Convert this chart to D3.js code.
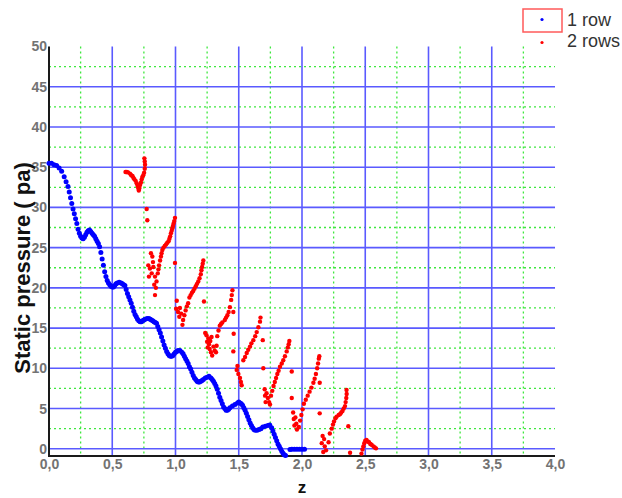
<!DOCTYPE html>
<html>
<head>
<meta charset="utf-8">
<script src="https://cdn.jsdelivr.net/npm/d3@7"></script>
<style>
  html, body { margin: 0; padding: 0; background: #fff; }
  svg { display: block; }
  .tick text { font-family: "Liberation Sans", Arial, sans-serif; font-size: 14px; font-weight: bold; fill: #737373; }
</style>
</head>
<body>
<svg id="chart" width="622" height="498"></svg>
<script>
// Static pressure along z, one row vs two rows

// Axis ticks
const zTicks = [0, 0.5, 1, 1.5, 2, 2.5, 3, 3.5, 4];
const pTicks = [0, 5, 10, 15, 20, 25, 30, 35, 40, 45, 50];
const zMinor = [0.25, 0.75, 1.25, 1.75, 2.25, 2.75, 3.25, 3.75];
const pMinor = [2.5, 7.5, 12.5, 17.5, 22.5, 27.5, 32.5, 37.5, 42.5, 47.5];
const seriesNames = ["1 row", "2 rows"];

// 1 row
const oneRowZ = [0.00,0.02,0.04,0.06,0.08,0.10,0.12,0.135,0.15,0.16,0.17,0.18,0.19,0.20,0.21,0.22,0.23,0.24,0.25,0.26,0.27,0.28,0.29,0.30,0.31,0.32,0.33,0.34,0.35,0.36,0.37,0.38,0.39,0.40,0.41,0.42,0.43,0.44,0.45,0.46,0.47,0.48,0.49,0.50,0.51,0.52,0.53,0.54,0.555,0.57,0.58,0.59,0.60,0.61,0.62,0.63,0.64,0.65,0.66,0.67,0.68,0.69,0.70,0.71,0.72,0.73,0.74,0.75,0.76,0.775,0.79,0.80,0.81,0.82,0.83,0.84,0.85,0.86,0.87,0.88,0.89,0.90,0.91,0.92,0.93,0.94,0.95,0.96,0.97,0.98,0.99,1.00,1.01,1.02,1.035,1.05,1.06,1.07,1.08,1.09,1.10,1.11,1.12,1.13,1.14,1.15,1.16,1.17,1.18,1.19,1.20,1.21,1.22,1.235,1.25,1.265,1.28,1.29,1.30,1.31,1.32,1.33,1.34,1.35,1.36,1.37,1.38,1.39,1.40,1.41,1.42,1.43,1.45,1.47,1.49,1.50,1.51,1.52,1.53,1.54,1.55,1.56,1.57,1.58,1.59,1.60,1.61,1.62,1.63,1.645,1.66,1.675,1.69,1.71,1.73,1.745,1.76,1.77,1.78,1.79,1.80,1.81,1.82,1.83,1.84,1.85,1.86,1.87,1.905,1.92,1.94,1.96,1.98,2.00,2.02];
const oneRowP = [35.5,35.5,35.3,35.2,34.9,34.5,33.8,33.2,32.6,31.9,31.2,30.5,29.8,29.2,28.6,28.0,27.3,26.8,26.4,26.2,26.1,26.3,26.6,26.9,27.1,27.2,27.0,26.8,26.6,26.4,26.1,25.8,25.5,25.1,24.4,23.6,22.8,22.0,21.4,20.9,20.6,20.4,20.2,20.1,20.1,20.3,20.5,20.6,20.7,20.6,20.5,20.4,20.3,19.8,19.3,18.9,18.5,18.1,17.6,17.1,16.7,16.4,16.1,15.9,15.8,15.8,15.9,16.0,16.1,16.2,16.2,16.1,16.0,15.9,15.8,15.7,15.6,15.2,14.8,14.4,13.9,13.4,12.9,12.5,12.1,11.8,11.6,11.5,11.5,11.6,11.8,12.0,12.1,12.2,12.2,12.0,11.8,11.5,11.2,10.9,10.6,10.2,9.9,9.5,9.1,8.8,8.6,8.4,8.3,8.3,8.4,8.5,8.6,8.8,8.9,9.0,8.8,8.6,8.4,8.1,7.8,7.4,6.9,6.4,6.0,5.6,5.2,5.0,4.8,4.8,4.9,5.1,5.3,5.5,5.7,5.8,5.7,5.6,5.4,5.1,4.8,4.4,4.0,3.6,3.2,2.9,2.6,2.4,2.3,2.3,2.4,2.5,2.7,2.8,2.9,2.95,2.6,2.2,1.8,1.4,1.0,0.6,0.3,0.0,-0.3,-0.55,-0.75,-0.85,-0.1,-0.07,-0.05,-0.05,-0.05,-0.05,-0.05];

// 2 rows
const twoRowsZ = [
  0.605,0.615,0.625,0.64,0.65,0.66,0.667,0.675,0.685,0.693,0.70,0.705,0.71,0.715,0.72,0.727,0.733,0.738,0.745,0.752,0.757,0.759,0.757,0.754,0.772,0.777,
  0.785,0.79,0.798,0.806,0.812,0.817,0.822,0.825,0.832,0.838,0.838,0.845,0.85,0.86,0.865,0.87,0.878,0.885,0.89,0.896,0.905,0.915,0.925,0.935,0.945,0.952,0.958,0.964,0.97,0.975,0.98,0.985,0.99,0.996,0.996,
  1.005,1.01,1.02,1.03,1.035,1.045,1.055,1.06,1.07,1.08,1.09,1.10,1.11,1.12,1.13,1.14,1.15,1.16,1.17,1.18,1.19,1.20,1.205,1.21,1.215,1.22,1.225,
  1.235,1.245,1.25,1.255,1.26,1.265,1.27,1.275,1.28,1.285,1.29,1.30,1.31,1.32,1.325,1.33,1.34,1.35,1.36,1.37,1.39,1.40,1.41,1.42,1.43,1.44,1.445,1.45,1.457,1.46,1.457,
  1.484,1.49,1.497,1.51,1.517,1.523,1.536,1.55,1.563,1.575,1.589,1.60,1.615,1.63,1.642,1.655,1.668,1.672,1.69,1.694,
  1.705,1.708,1.712,1.72,1.73,1.74,1.747,1.755,1.765,1.775,1.785,1.795,1.805,1.815,1.826,1.84,1.852,1.865,1.879,1.888,1.895,1.90,1.919,1.919,
  1.93,1.935,1.94,1.948,1.955,1.96,1.975,1.985,1.995,2.005,2.015,2.03,2.045,2.06,2.075,2.09,2.10,2.11,2.12,2.127,2.133,2.137,2.14,2.14,
  2.156,2.163,2.168,2.175,2.18,2.19,2.21,2.22,2.235,2.245,2.253,2.265,2.274,2.29,2.30,2.31,2.32,2.33,2.34,2.345,2.35,2.353,2.352,2.366,2.38,
  2.47,2.478,2.485,2.492,2.50,2.51,2.52,2.53,2.54,2.55,2.565,2.575,2.585
];
const twoRowsP = [
  34.4,34.4,34.35,34.2,34.0,33.9,33.7,33.5,33.3,33.0,32.7,32.4,32.1,32.4,32.8,33.1,33.5,33.8,34.0,34.3,34.8,35.3,35.7,36.1,29.8,28.4,
  22.8,21.4,22.4,24.3,21.8,23.9,23.2,22.6,20.4,19.1,21.4,20.0,20.8,21.8,22.3,22.8,23.4,23.9,24.3,24.7,25.0,25.2,25.4,25.6,25.8,26.1,26.4,26.8,27.1,27.4,27.7,28.0,28.3,28.7,23.1,
  17.4,18.4,17.0,16.4,17.5,16.8,15.4,16.0,16.6,17.2,17.7,18.1,18.8,19.1,19.4,19.6,19.9,20.2,20.5,20.8,21.2,21.7,22.2,22.6,23.0,23.4,18.3,
  14.4,14.1,13.3,12.6,13.7,13.0,12.4,13.4,12.0,13.9,11.6,12.7,12.2,12.0,12.8,14.0,14.7,15.3,15.5,15.7,16.0,16.3,16.6,17.0,17.6,18.5,19.1,19.7,17.0,14.3,12.1,
  9.8,10.3,9.3,8.8,8.3,7.9,11.0,11.4,11.9,12.3,12.7,13.1,13.5,14.0,14.5,15.1,15.8,16.3,13.5,10.0,
  7.4,6.6,5.8,6.9,6.3,5.8,5.5,6.6,7.2,7.8,8.3,8.8,9.3,9.7,10.2,10.6,11.0,11.5,12.1,12.6,13.0,13.4,9.6,6.3,
  4.5,3.7,2.9,3.9,3.1,2.4,2.7,3.5,4.2,4.9,5.6,6.1,6.6,7.1,7.6,8.2,8.7,9.3,10.0,10.6,11.2,11.5,8.2,4.4,
  0.7,1.6,-0.4,1.2,0.3,-0.2,0.8,1.9,2.5,3.0,3.4,3.8,4.0,4.2,4.3,4.5,4.7,5.0,5.3,5.8,6.3,6.8,7.3,2.8,-0.5,
  -0.6,-0.1,0.3,0.7,1.0,1.1,0.9,0.8,0.6,0.5,0.3,0.15,0.05
];

const colors = { one: "#0000ff", two: "#ff0000" };

const svg = d3.select("#chart");
const plotLeft = 49, plotRight = 555, plotTop = 46.5, plotBottom = 456;

const x = d3.scaleLinear().domain([0, 4]).range([plotLeft, plotRight]);
const y = d3.scaleLinear().domain([-0.9, 50]).range([plotBottom, plotTop]);

// Grid: dotted green minor lines, solid blue major lines
const grid = svg.append("g");
grid.selectAll("line.vmin").data(zMinor).join("line").attr("class", "vmin")
  .attr("x1", d => x(d)).attr("x2", d => x(d))
  .attr("y1", plotTop).attr("y2", plotBottom)
  .attr("stroke", "#3ee83e").attr("stroke-width", 1.3).attr("stroke-dasharray", "2,3");
grid.selectAll("line.hmin").data(pMinor).join("line").attr("class", "hmin")
  .attr("x1", plotLeft).attr("x2", plotRight)
  .attr("y1", d => y(d)).attr("y2", d => y(d))
  .attr("stroke", "#3ee83e").attr("stroke-width", 1.3).attr("stroke-dasharray", "2,3");
grid.selectAll("line.vmaj").data(zTicks.filter(d => d > 0 && d < 4)).join("line").attr("class", "vmaj")
  .attr("x1", d => x(d)).attr("x2", d => x(d))
  .attr("y1", plotTop).attr("y2", plotBottom)
  .attr("stroke", "#5a5aff").attr("stroke-width", 1.6);
grid.selectAll("line.hmaj").data(pTicks.filter(d => d < 50)).join("line").attr("class", "hmaj")
  .attr("x1", plotLeft).attr("x2", plotRight)
  .attr("y1", d => y(d)).attr("y2", d => y(d))
  .attr("stroke", "#5a5aff").attr("stroke-width", 1.6);

// Axes
const fmtZ = d => d3.format(".1f")(d).replace(".", ",");
const xAxis = svg.append("g").attr("transform", `translate(0,${plotBottom})`)
  .call(d3.axisBottom(x).tickValues(zTicks).tickFormat(fmtZ).tickSize(0).tickPadding(3));
xAxis.select(".domain").remove();
const yAxis = svg.append("g").attr("transform", `translate(${plotLeft},0)`)
  .call(d3.axisLeft(y).tickValues(pTicks).tickFormat(d3.format("d")).tickSize(0).tickPadding(2));
yAxis.select(".domain").remove();

svg.append("line").attr("x1", plotLeft).attr("x2", plotLeft).attr("y1", plotTop).attr("y2", plotBottom + 1)
  .attr("stroke", "#1a1a1a").attr("stroke-width", 2);
svg.append("line").attr("x1", plotLeft - 1).attr("x2", plotRight).attr("y1", plotBottom).attr("y2", plotBottom)
  .attr("stroke", "#1a1a1a").attr("stroke-width", 2);

// Axis titles
svg.append("text")
  .attr("x", x(2)).attr("y", 493)
  .attr("text-anchor", "middle")
  .attr("font-family", "Liberation Sans, Arial, sans-serif")
  .attr("font-size", 17).attr("font-weight", "bold").attr("fill", "#111")
  .text("z");
svg.append("text")
  .attr("transform", "translate(30,268) rotate(-90)")
  .attr("text-anchor", "middle")
  .attr("font-family", "Liberation Sans, Arial, sans-serif")
  .attr("font-size", 22).attr("font-weight", "bold").attr("fill", "#111")
  .text("Static pressure ( pa)");

// Points
const twoRows = twoRowsZ.map((z, i) => ({ z, p: twoRowsP[i] }));
const oneRow = oneRowZ.map((z, i) => ({ z, p: oneRowP[i] }));

svg.append("g").selectAll("circle").data(twoRows).join("circle")
  .attr("cx", d => x(d.z)).attr("cy", d => y(d.p)).attr("r", 2.2)
  .attr("fill", colors.two);
svg.append("g").selectAll("circle").data(oneRow).join("circle")
  .attr("cx", d => x(d.z)).attr("cy", d => y(d.p)).attr("r", 2.5)
  .attr("fill", colors.one);

// Legend
const legend = svg.append("g");
legend.append("rect").attr("x", 523).attr("y", 9).attr("width", 39).attr("height", 23)
  .attr("fill", "#fff").attr("stroke", "#ff5a5a").attr("stroke-width", 1.5);
legend.append("circle").attr("cx", 542).attr("cy", 19.5).attr("r", 1.6).attr("fill", colors.one);
legend.append("circle").attr("cx", 542).attr("cy", 42.5).attr("r", 1.6).attr("fill", colors.two);
legend.selectAll("text").data(seriesNames).join("text")
  .attr("x", 567).attr("y", (d, i) => 26 + i * 21)
  .attr("font-family", "Liberation Sans, Arial, sans-serif")
  .attr("font-size", 18).attr("fill", "#333")
  .text(d => d);
</script>
</body>
</html>
